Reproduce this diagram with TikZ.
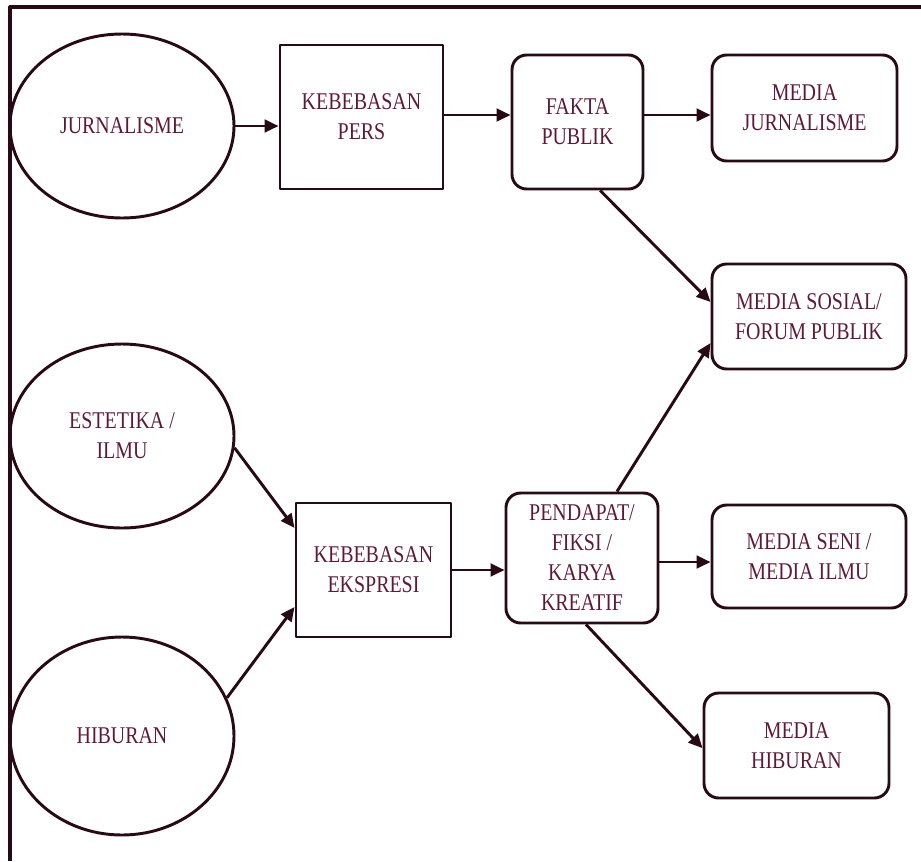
\documentclass[tikz,border=0pt]{standalone}
\usepackage{fontspec}
\setmainfont{Liberation Serif}[FakeStretch=0.83]
\usetikzlibrary{shapes.geometric,arrows.meta}
\definecolor{garis}{RGB}{40,10,20}
\definecolor{teks}{RGB}{95,25,55}
\begin{document}
\begin{tikzpicture}[x=0.75pt,y=-0.75pt,line join=round,>={Triangle[length=10.5pt,width=9.5pt]},
	every node/.style={text=teks,font=\fontsize{18}{22.5}\selectfont,align=center,inner sep=0pt},
	oval/.style={draw=garis,line width=2.2pt,ellipse,minimum width=168pt},
	kotak/.style={draw=garis,line width=2.2pt,rectangle},
	bulat/.style={draw=garis,line width=2.2pt,rectangle,rounded corners=11pt},
	panah/.style={->,draw=garis,line width=2.2pt}]
	\useasboundingbox (0,0) rectangle (921,861);
	\draw[garis,line width=2.4pt] (10,861)--(10,7)--(921,7);
	% sumber
	\node[oval,minimum height=138pt] (jur) at (122,126) {JURNALISME};
	\node[oval,minimum height=138pt] (est) at (122,436) {ESTETIKA /\\ILMU};
	\node[oval,minimum height=148.5pt] (hib) at (122,736) {HIBURAN};
	% kebebasan
	\node[kotak,minimum width=122.25pt,minimum height=108pt] (pers) at (361.5,117) {KEBEBASAN\\PERS};
	\node[kotak,minimum width=116.25pt,minimum height=100.5pt] (eks) at (373.5,570) {KEBEBASAN\\EKSPRESI};
	% isi
	\node[bulat,minimum width=98.25pt,minimum height=100.5pt] (fakta) at (577.5,122) {FAKTA\\PUBLIK};
	\node[bulat,minimum width=114pt,minimum height=97.5pt] (pend) at (582,558) {PENDAPAT/\\FIKSI /\\KARYA\\KREATIF};
	% media
	\node[bulat,minimum width=138.75pt,minimum height=79.5pt] (mjur) at (804.5,108) {MEDIA\\JURNALISME};
	\node[bulat,minimum width=145.5pt,minimum height=78.75pt] (msos) at (809,316.5) {MEDIA SOSIAL/\\FORUM PUBLIK};
	\node[bulat,minimum width=145.5pt,minimum height=77.25pt] (mseni) at (809,556.5) {MEDIA SENI /\\MEDIA ILMU};
	\node[bulat,minimum width=138.75pt,minimum height=78.75pt] (mhib) at (796.5,745.5) {MEDIA\\HIBURAN};
	% panah
	\draw[panah] (jur.east) -- (jur.east -| pers.west);
	\draw[panah] ([yshift=1.5pt]pers.east) -- ([yshift=1.5pt]pers.east -| fakta.west);
	\draw[panah] ([yshift=5.25pt]fakta.east) -- ([yshift=5.25pt]fakta.east -| mjur.west);
	\draw[panah] ([xshift=17pt]fakta.south) -- ([yshift=10.9pt]msos.west);
	\draw[panah] (est.-6) -- ([yshift=31.5pt]eks.west);
	\draw[panah] (hib.20) -- ([yshift=-27.75pt]eks.west);
	\draw[panah] (eks.east) -- (eks.east -| pend.west);
	\draw[panah] ([xshift=26.25pt]pend.north) -- ([yshift=-19.9pt]msos.west);
	\draw[panah] ([yshift=-3pt]pend.east) -- ([yshift=-3pt]pend.east -| mseni.west);
	\draw[panah] ([xshift=3pt]pend.south) -- ([yshift=-2pt]mhib.west);
\end{tikzpicture}
\end{document}
